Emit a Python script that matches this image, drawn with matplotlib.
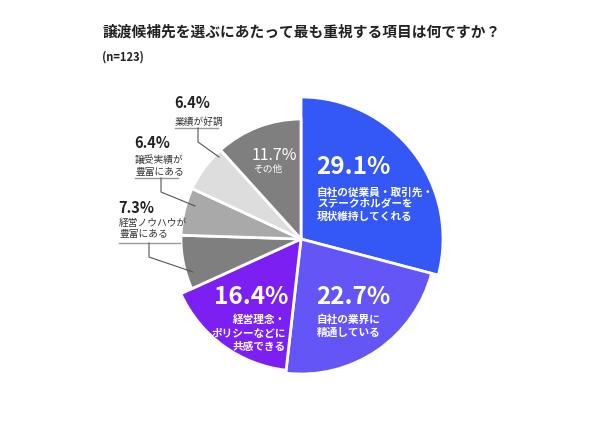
import matplotlib
matplotlib.use("Agg")
import matplotlib.pyplot as plt

plt.rcParams['font.family'] = ['Noto Sans CJK JP', 'DejaVu Sans']

# data
title = '譲渡候補先を選ぶにあたって最も重視する項目は何ですか？'
sample = '(n=123)'
values = [29.1, 22.7, 16.4, 7.3, 6.4, 6.4, 11.7]
names = [
    '自社の従業員・取引先・\nステークホルダーを\n現状維持してくれる',
    '自社の業界に\n精通している',
    '経営理念・\nポリシーなどに\n共感できる',
    '経営ノウハウが\n豊富にある',
    '譲受実績が\n豊富にある',
    '業績が好調',
    'その他',
]
colors = ['#3358f5', '#6456f6', '#7c1ff3', '#7f7f7f', '#a9a9a9', '#dddddd', '#7f7f7f']

W, H = 599, 421


def Y(y):
    # pixel row -> data y
    return H - y


def lines(x, y0, txt, step, **kw):
    for i, s in enumerate(txt.split('\n')):
        ax.text(x, Y(y0 + i * step), s, va='center', **kw)


fig = plt.figure(figsize=(W / 100, H / 100), dpi=100)
ax = fig.add_axes([0, 0, 1, 1])

R = 142
explode_px = [4, 5, 7, 0, 0, 0, 0]
radii = [142, 135, 132, 120, 120, 120, 120]
wedges, _ = ax.pie(values, colors=colors, startangle=90, counterclock=False,
                   radius=R, center=(301, Y(239)),
                   explode=[e / R for e in explode_px],
                   wedgeprops=dict(edgecolor='white', linewidth=2))
for w, r in zip(wedges, radii):
    w.set_radius(r)

ax.set_xlim(0, W)
ax.set_ylim(0, H)
ax.set_aspect('auto')
ax.axis('off')

# title
ax.text(103, Y(32), title, fontsize=10.6, fontweight='bold', va='center', color='#222222')
ax.text(102, Y(57), sample, fontsize=8, fontweight='bold', va='center', color='#222222')

# labels inside colored slices
white = dict(color='white', fontweight='bold')
ax.text(316, Y(167), f'{values[0]}%', fontsize=17.5, ha='left', va='center', **white)
lines(317, 192, names[0], 12.5, fontsize=7.7, ha='left', **white)
ax.text(316, Y(297), f'{values[1]}%', fontsize=17.5, ha='left', va='center', **white)
lines(317, 320, names[1], 13, fontsize=7.7, ha='left', **white)
ax.text(288, Y(297), f'{values[2]}%', fontsize=17.5, ha='right', va='center', **white)
lines(286, 320, names[2], 13.5, fontsize=7.7, ha='right', **white)
ax.text(252, Y(156), f'{values[6]}%', fontsize=11.5, ha='left', va='center', color='white')
ax.text(253, Y(169), names[6], fontsize=7, ha='left', va='center', color='white')

# outside labels for gray slices: (index, text x, number y, first sub y, underline y, underline end, elbow x, end point)
outside = [
    (5, 175, 103, 122, 128, 218, 198, (219, 157)),
    (4, 135, 143, 160, 178, 178, 161, (195, 206)),
    (3, 119, 208, 223, 243, 180, 149, (193, 272)),
]
for i, x, yn, ys, yu, xu, xe, end in outside:
    ax.text(x - 1, Y(yn), f'{values[i]}%', fontsize=10.5, fontweight='bold',
            ha='left', va='center', color='#222222')
    lines(x, ys, names[i], 11.5, fontsize=7, ha='left', color='#333333')
    ax.plot([x, xu], [Y(yu), Y(yu)], color='#9a9a9a', lw=1)
    ax.plot([xe, xe, end[0]], [Y(yu), Y(yu + 14), Y(end[1])], color='#555555', lw=0.8)

fig.savefig('out.png', dpi=100)
